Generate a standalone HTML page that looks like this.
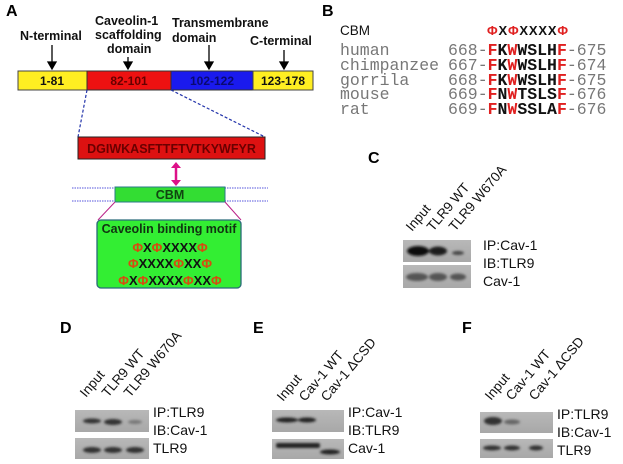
<!DOCTYPE html>
<html><head><meta charset="utf-8"><style>
html,body{margin:0;padding:0;background:#fff;}
svg{display:block;font-family:"Liberation Sans",sans-serif;}
.b{font-weight:bold;}
.m{font-family:"Liberation Mono",monospace;font-size:16.5px;fill:#777;}
.mb{font-weight:bold;fill:#111;}
.r{fill:#e02020;}
.ph{fill:#d84a10;}
.lab{font-size:13.5px;fill:#111;}
</style></head><body>
<svg width="623" height="464" viewBox="0 0 623 464" xmlns="http://www.w3.org/2000/svg">
<defs>
<marker id="ah" markerWidth="8" markerHeight="8" refX="4" refY="6" orient="auto" markerUnits="userSpaceOnUse"><path d="M0,0 L8,0 L4,7 z" fill="#000" transform="rotate(-90 4 4)"/></marker>
<linearGradient id="bg1" x1="0" y1="0" x2="0" y2="1"><stop offset="0" stop-color="#b8b8b8"/><stop offset="1" stop-color="#a8a8a8"/></linearGradient>
<filter id="bl"><feGaussianBlur stdDeviation="1.2"/></filter>
</defs>
<!-- Panel A -->
<text x="6" y="16" class="b" font-size="16">A</text>
<g class="b" font-size="12.5" fill="#111">
<text x="20" y="40">N-terminal</text>
<text x="95" y="25">Caveolin-1</text>
<text x="95" y="39">scaffolding</text>
<text x="107" y="53">domain</text>
<text x="172" y="27">Transmembrane</text>
<text x="172" y="42">domain</text>
<text x="250" y="45">C-terminal</text>
</g>
<g stroke="#000" stroke-width="1.3">
<line x1="52" y1="45" x2="52" y2="63"/><path d="M48,62 L56,62 L52,69 z" fill="#000"/>
<line x1="128" y1="57" x2="128" y2="63"/><path d="M124,62 L132,62 L128,69 z" fill="#000"/>
<line x1="209" y1="45" x2="209" y2="63"/><path d="M205,62 L213,62 L209,69 z" fill="#000"/>
<line x1="284" y1="50" x2="284" y2="63"/><path d="M280,62 L288,62 L284,69 z" fill="#000"/>
</g>
<rect x="18" y="71" width="69" height="19" fill="#ffee22" stroke="#444" stroke-width="1"/>
<rect x="87" y="71" width="84" height="19" fill="#ee1111" stroke="#333" stroke-width="1"/>
<rect x="171" y="71" width="82" height="19" fill="#1a1aee" stroke="#333" stroke-width="1"/>
<rect x="253" y="71" width="60" height="19" fill="#ffee22" stroke="#444" stroke-width="1"/>
<g class="b" font-size="12" text-anchor="middle">
<text x="52" y="85" fill="#111">1-81</text>
<text x="129" y="85" fill="#600">82-101</text>
<text x="212" y="85" fill="#0a0a70">102-122</text>
<text x="283" y="85" fill="#111">123-178</text>
</g>
<line x1="87" y1="90" x2="78" y2="137" stroke="#2233aa" stroke-width="1.2" stroke-dasharray="3,2"/>
<line x1="171" y1="90" x2="265" y2="137" stroke="#2233aa" stroke-width="1.2" stroke-dasharray="3,2"/>
<rect x="78" y="137" width="187" height="22" fill="#dd1111" stroke="#222" stroke-width="1"/>
<text x="171.5" y="153" class="b" font-size="12.5" fill="#6a0000" text-anchor="middle">DGIWKASFTTFTVTKYWFYR</text>
<line x1="176" y1="166" x2="176" y2="182" stroke="#dd1188" stroke-width="2.5"/>
<path d="M171,168 L181,168 L176,162 z M171,180 L181,180 L176,186 z" fill="#dd1188"/>
<line x1="72" y1="188" x2="268" y2="188" stroke="#5555dd" stroke-width="1" stroke-dasharray="1.5,1"/>
<line x1="72" y1="201" x2="268" y2="201" stroke="#5555dd" stroke-width="1" stroke-dasharray="1.5,1"/>
<rect x="115" y="187" width="110" height="15" fill="#33dd33" stroke="#2a7a8a" stroke-width="1"/>
<text x="170" y="199" class="b" font-size="12.5" fill="#114411" text-anchor="middle">CBM</text>
<line x1="115" y1="202" x2="98" y2="220" stroke="#bb2288" stroke-width="1"/>
<line x1="225" y1="202" x2="241" y2="220" stroke="#bb2288" stroke-width="1"/>
<rect x="97" y="220" width="144" height="68" rx="4" fill="#33ee33" stroke="#2a6a7a" stroke-width="1.3"/>
<text x="169" y="233" class="b" font-size="12.5" fill="#113311" text-anchor="middle">Caveolin binding motif</text>
<g class="b" font-size="13" fill="#111" text-anchor="middle">
<text x="170" y="252"><tspan class="ph">Φ</tspan>X<tspan class="ph">Φ</tspan>XXXX<tspan class="ph">Φ</tspan></text>
<text x="170" y="268"><tspan class="ph">Φ</tspan>XXXX<tspan class="ph">Φ</tspan>XX<tspan class="ph">Φ</tspan></text>
<text x="170" y="285"><tspan class="ph">Φ</tspan>X<tspan class="ph">Φ</tspan>XXXX<tspan class="ph">Φ</tspan>XX<tspan class="ph">Φ</tspan></text>
</g>
<!-- Panel B -->
<text x="322" y="16" class="b" font-size="16">B</text>
<text x="340" y="35" font-size="13.5" fill="#111">CBM</text>
<text x="487" y="35" class="b" font-size="13" fill="#111" textLength="81"><tspan class="r">Φ</tspan>X<tspan class="r">Φ</tspan>XXXX<tspan class="r">Φ</tspan></text>
<g class="m">
<text x="340" y="55">human</text>
<text x="340" y="70">chimpanzee</text>
<text x="340" y="85">gorrila</text>
<text x="340" y="99">mouse</text>
<text x="340" y="114">rat</text>
<text x="448" y="55">668-<tspan class="mb r">F</tspan><tspan class="mb">K</tspan><tspan class="mb r">W</tspan><tspan class="mb">WSLH</tspan><tspan class="mb r">F</tspan>-675</text>
<text x="448" y="70">667-<tspan class="mb r">F</tspan><tspan class="mb">K</tspan><tspan class="mb r">W</tspan><tspan class="mb">WSLH</tspan><tspan class="mb r">F</tspan>-674</text>
<text x="448" y="85">668-<tspan class="mb r">F</tspan><tspan class="mb">K</tspan><tspan class="mb r">W</tspan><tspan class="mb">WSLH</tspan><tspan class="mb r">F</tspan>-675</text>
<text x="448" y="99">669-<tspan class="mb r">F</tspan><tspan class="mb">N</tspan><tspan class="mb r">W</tspan><tspan class="mb">TSLS</tspan><tspan class="mb r">F</tspan>-676</text>
<text x="448" y="114">669-<tspan class="mb r">F</tspan><tspan class="mb">N</tspan><tspan class="mb r">W</tspan><tspan class="mb">SSLA</tspan><tspan class="mb r">F</tspan>-676</text>
</g>
<!-- Panel C -->
<text x="368" y="163" class="b" font-size="16">C</text>
<g class="lab">
<text transform="translate(412,232) rotate(-50)">Input</text>
<text transform="translate(433,232) rotate(-50)">TLR9 WT</text>
<text transform="translate(455,232) rotate(-50)">TLR9 W670A</text>
<text x="483" y="250" font-size="14">IP:Cav-1</text>
<text x="483" y="268" font-size="14">IB:TLR9</text>
<text x="483" y="286" font-size="14">Cav-1</text>
</g>
<rect x="403" y="240" width="68" height="22" fill="url(#bg1)"/>
<rect x="403" y="265" width="68" height="23" fill="url(#bg1)"/>
<g filter="url(#bl)">
<ellipse cx="418" cy="251" rx="11" ry="5" fill="#111"/>
<ellipse cx="438" cy="251" rx="9" ry="4.5" fill="#1a1a1a"/>
<ellipse cx="458" cy="253" rx="6" ry="2" fill="#444"/>
<ellipse cx="417" cy="277" rx="11" ry="4" fill="#555"/>
<ellipse cx="438" cy="277" rx="9" ry="4" fill="#555"/>
<ellipse cx="458" cy="277" rx="8" ry="3.5" fill="#555"/>
</g>
<!-- Panel D -->
<text x="60" y="333" class="b" font-size="16">D</text>
<g class="lab">
<text transform="translate(86,398) rotate(-50)">Input</text>
<text transform="translate(108,398) rotate(-50)">TLR9 WT</text>
<text transform="translate(130,398) rotate(-50)">TLR9 W670A</text>
<text x="153" y="417" font-size="14">IP:TLR9</text>
<text x="153" y="435" font-size="14">IB:Cav-1</text>
<text x="153" y="453" font-size="14">TLR9</text>
</g>
<rect x="75" y="410" width="74" height="22" fill="url(#bg1)"/>
<rect x="75" y="438" width="74" height="21" fill="url(#bg1)"/>
<g filter="url(#bl)">
<ellipse cx="92" cy="421" rx="9" ry="2.5" fill="#333"/>
<ellipse cx="113" cy="422" rx="9" ry="3" fill="#333"/>
<ellipse cx="135" cy="422" rx="7" ry="2" fill="#777"/>
<ellipse cx="92" cy="450" rx="9" ry="3" fill="#333"/>
<ellipse cx="113" cy="450" rx="9" ry="3" fill="#333"/>
<ellipse cx="135" cy="450" rx="9" ry="3" fill="#333"/>
</g>
<!-- Panel E -->
<text x="253" y="333" class="b" font-size="16">E</text>
<g class="lab">
<text transform="translate(283,402) rotate(-50)">Input</text>
<text transform="translate(305,402) rotate(-50)">Cav-1 WT</text>
<text transform="translate(327,402) rotate(-50)">Cav-1 ΔCSD</text>
<text x="348" y="417" font-size="14">IP:Cav-1</text>
<text x="348" y="435" font-size="14">IB:TLR9</text>
<text x="348" y="453" font-size="14">Cav-1</text>
</g>
<rect x="272" y="410" width="72" height="22" fill="url(#bg1)"/>
<rect x="272" y="439" width="72" height="20" fill="url(#bg1)"/>
<g filter="url(#bl)">
<ellipse cx="287" cy="420" rx="11" ry="2.5" fill="#222"/>
<ellipse cx="307" cy="420" rx="9" ry="2.5" fill="#222"/>
<rect x="276" y="443" width="44" height="5" rx="2" fill="#222"/>
<ellipse cx="330" cy="452" rx="10" ry="2.5" fill="#222"/>
</g>
<!-- Panel F -->
<text x="462" y="333" class="b" font-size="16">F</text>
<g class="lab">
<text transform="translate(491,401) rotate(-50)">Input</text>
<text transform="translate(512,401) rotate(-50)">Cav-1 WT</text>
<text transform="translate(535,401) rotate(-50)">Cav-1 ΔCSD</text>
<text x="557" y="419" font-size="14">IP:TLR9</text>
<text x="557" y="437" font-size="14">IB:Cav-1</text>
<text x="557" y="455" font-size="14">TLR9</text>
</g>
<rect x="480" y="412" width="73" height="21" fill="url(#bg1)"/>
<rect x="480" y="439" width="73" height="19" fill="url(#bg1)"/>
<g filter="url(#bl)">
<ellipse cx="493" cy="421" rx="9" ry="4" fill="#333"/>
<ellipse cx="512" cy="422" rx="8" ry="2.5" fill="#666"/>
<ellipse cx="492" cy="448" rx="9" ry="2.5" fill="#333"/>
<ellipse cx="512" cy="448" rx="8" ry="2.5" fill="#333"/>
<ellipse cx="536" cy="448" rx="7" ry="2.5" fill="#333"/>
</g>
</svg>
</body></html>
